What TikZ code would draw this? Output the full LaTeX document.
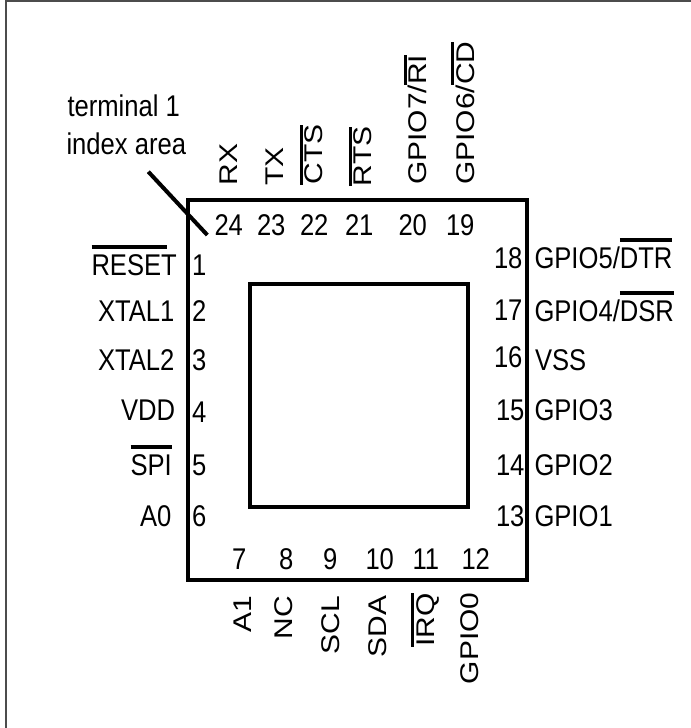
\documentclass[tikz,border=0pt]{standalone}
\usepackage{fontspec}
\usepackage{graphicx}
\setmainfont{Liberation Sans}
\newcommand\hs[1]{\scalebox{1}[1.17]{#1}}
\newcommand\vs[1]{\scalebox{1.17}[1]{#1}}
\newcommand\capbox[1]{\hbox{\vrule height 13.75pt width 0pt\smash{#1}}}
\newcommand\ovh[1]{\vbox{\hrule height 2.1pt\kern 3.2pt\capbox{#1}}}
\newcommand\ovr[1]{\vbox{\hrule width 56.7pt height 2.1pt\kern 3.2pt\capbox{#1}}}
\newcommand\ovv[1]{\vbox{\hrule height 2.4pt\kern 1pt\capbox{#1}}}
\tikzset{
  x=0.75pt, y=-0.75pt,
  txt/.style={anchor=base west, inner sep=0pt, outer sep=0pt, font=\fontsize{19.2pt}{23pt}\selectfont},
  toplabel/.style={txt, rotate=90},
  heavy/.style={line width=3pt, draw=black, fill=none, inner sep=0pt, outer sep=0pt},
  frameline/.style={line width=1.1pt, draw=black!70},
  leader/.style={line width=3pt, draw=black}
}
\begin{document}
\begin{tikzpicture}
\useasboundingbox (0,0) rectangle (691,728);
\coordinate (fa) at (6,728);
\coordinate (fb) at (6,1);
\coordinate (fc) at (691,1);
\draw[frameline] (fa) -- (fb) -- (fc);
\node[heavy, minimum width=254.25pt, minimum height=285pt] (pkg) at (357.5,390.3) {};
\node[heavy, minimum width=163.5pt, minimum height=167.25pt] (pad) at (359,395.3) {};
% index note
\node[txt] (t1) at (67.5,116.7) {\hs{terminal 1}};
\node[txt] (t2) at (66.5,154) {\hs{index area}};
\coordinate (la) at (148.3,171.7);
\coordinate (lb) at (207.3,235);
\draw[leader] (la) -- (lb);
% top numbers
\node[txt] (n24) at (214.5,235) {\hs{24}};
\node[txt] (n23) at (257,235) {\hs{23}};
\node[txt] (n22) at (300,235) {\hs{22}};
\node[txt] (n21) at (345,235) {\hs{21}};
\node[txt] (n20) at (398.5,235) {\hs{20}};
\node[txt] (n19) at (446,235) {\hs{19}};
% top names
\node[toplabel] (l24) at (237.3,185.5) {\vs{RX}};
\node[toplabel] (l23) at (283,185.6) {\vs{TX}};
\node[toplabel] (l22) at (322.7,184.5) {\vs{\ovv{CTS}}};
\node[toplabel] (l21) at (371.7,186) {\vs{\ovv{RTS}}};
\node[toplabel] (l20) at (426.7,184.7) {\vs{GPIO7/\ovv{RI}}};
\node[toplabel] (l19) at (474,184.7) {\vs{GPIO6/\ovv{CD}}};
% left
\node[txt] (n1) at (192,275) {\hs{1}};
\node[txt] (n2) at (192,321) {\hs{2}};
\node[txt] (n3) at (192,370) {\hs{3}};
\node[txt] (n4) at (192,422) {\hs{4}};
\node[txt] (n5) at (192,475) {\hs{5}};
\node[txt] (n6) at (192,526.7) {\hs{6}};
\node[txt] (l1) at (91.5,275) {\hs{\ovr{RESET}}};
\node[txt] (l2) at (98,321) {\hs{XTAL1}};
\node[txt] (l3) at (98,370) {\hs{XTAL2}};
\node[txt] (l4) at (121,420.7) {\hs{VDD}};
\node[txt] (l5) at (130.5,475) {\hs{\ovh{SPI}}};
\node[txt] (l6) at (140,526) {\hs{A0}};
% bottom numbers
\node[txt] (n7) at (232,569.3) {\hs{7}};
\node[txt] (n8) at (279,569.3) {\hs{8}};
\node[txt] (n9) at (323,569.3) {\hs{9}};
\node[txt] (n10) at (365.5,569.3) {\hs{10}};
\node[txt] (n11) at (412.5,569.3) {\hs{11}};
\node[txt] (n12) at (461.5,569.3) {\hs{12}};
% bottom names
\node[toplabel] (l7) at (251,632.7) {\vs{A1}};
\node[toplabel] (l8) at (292.7,639) {\vs{NC}};
\node[toplabel] (l9) at (339.3,654) {\vs{SCL}};
\node[toplabel] (l10) at (386.7,657.5) {\vs{SDA}};
\node[toplabel] (l11) at (434,646.5) {\vs{\ovv{IRQ}}};
\node[toplabel] (l12) at (478.3,684) {\vs{GPIO0}};
% right
\node[txt] (n18) at (494,268) {\hs{18}};
\node[txt] (n17) at (494,320) {\hs{17}};
\node[txt] (n16) at (494,367) {\hs{16}};
\node[txt] (n15) at (496,420.7) {\hs{15}};
\node[txt] (n14) at (496,475) {\hs{14}};
\node[txt] (n13) at (496,526.7) {\hs{13}};
\node[txt] (l18) at (534.5,268) {\hs{GPIO5/\ovh{DTR}}};
\node[txt] (l17) at (534.5,321) {\hs{GPIO4/\ovh{DSR}}};
\node[txt] (l16) at (535,370) {\hs{VSS}};
\node[txt] (l15) at (534.5,420.7) {\hs{GPIO3}};
\node[txt] (l14) at (534.5,475) {\hs{GPIO2}};
\node[txt] (l13) at (534.5,526.7) {\hs{GPIO1}};
\end{tikzpicture}
\end{document}
